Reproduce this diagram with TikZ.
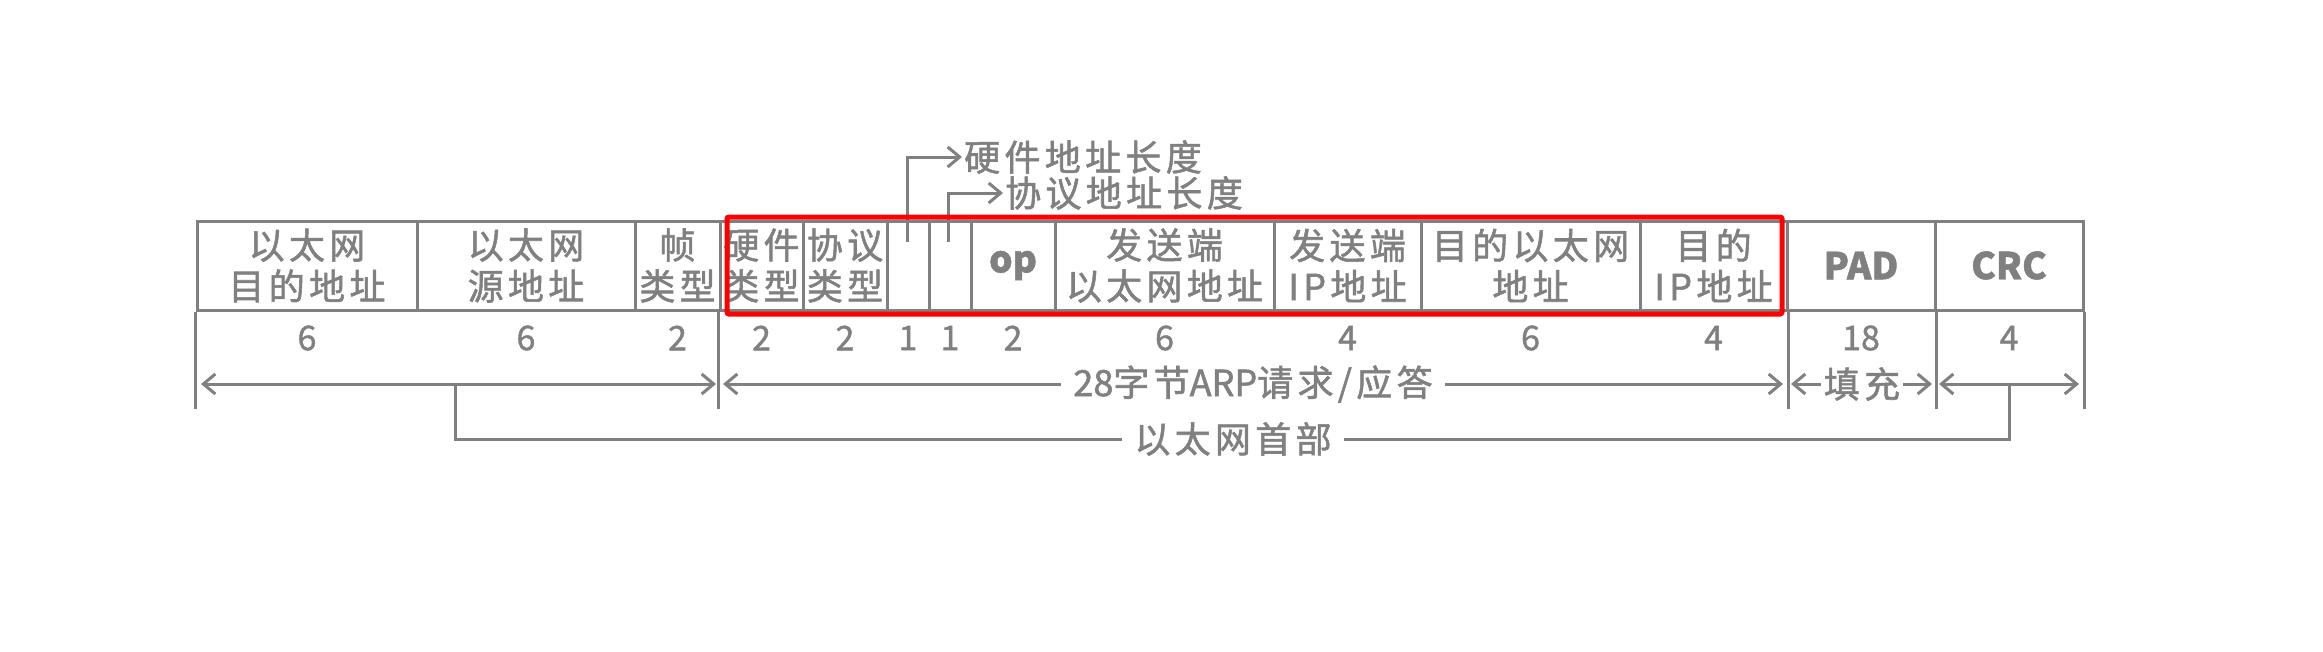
\documentclass[tikz,border=0pt]{standalone}
\usepackage{fontspec}
\usetikzlibrary{arrows.meta}
\setmainfont[FakeBold=1.2]{Noto Sans CJK SC}
\newfontfamily\cjk[LetterSpace=12,FakeBold=1.5]{Noto Sans CJK SC}
\newfontfamily\latf[FakeBold=1.5]{Noto Sans CJK SC}
\definecolor{lg}{RGB}{128,128,128}
\definecolor{rd}{RGB}{255,0,0}
\begin{document}
\begin{tikzpicture}[x=1pt,y=-1pt,
  cell/.style={draw=lg, line width=3pt, minimum height=89pt, inner sep=0pt, text=lg, align=center, font=\cjk\fontsize{36}{41}\selectfont},
  bcell/.style={cell, font=\bfseries\fontsize{37}{41}\selectfont},
  num/.style={text=lg, font=\fontsize{34}{41}\selectfont, inner sep=0pt},
  lbl/.style={text=lg, font=\cjk\fontsize{36}{41}\selectfont, inner sep=2pt},
  ln/.style={draw=lg, line width=3pt},
  arr/.style={ln, -{Straight Barb[length=12pt,width=20pt]}},
  dar/.style={ln, {Straight Barb[length=12pt,width=20pt]}-{Straight Barb[length=12pt,width=20pt]}},
  hl/.style={draw=rd, line width=5pt, rounded corners=2pt, inner sep=0pt}
  ]
\useasboundingbox (0,0) rectangle (2323,651);
% top row cells
\node[cell, minimum width=220pt] (c1) at (307,265.5) {以太网\\目的地址};
\node[cell, minimum width=218pt] (c2) at (526,265.5) {以太网\\源地址};
\node[cell, minimum width=85pt] (c3) at (677.5,265.5) {帧\\类型};
\node[cell, minimum width=83pt] (c4) at (761.5,265.5) {硬件\\类型};
\node[cell, minimum width=84pt] (c5) at (845,265.5) {协议\\类型};
\node[cell, minimum width=42pt] (c6) at (908,265.5) {};
\node[cell, minimum width=42pt] (c7) at (950,265.5) {};
\node[bcell, minimum width=84pt] (c8) at (1013,265.5) {op};
\node[cell, minimum width=219pt] (c9) at (1164.5,265.5) {发送端\\以太网地址};
\node[cell, minimum width=147pt] (c10) at (1347.5,265.5) {发送端\\IP地址};
\node[cell, minimum width=219pt] (c11) at (1530.5,265.5) {目的以太网\\地址};
\node[cell, minimum width=147pt] (c12) at (1713.5,265.5) {目的\\IP地址};
\node[bcell, minimum width=148pt] (c13) at (1861,265.5) {PAD};
\node[bcell, minimum width=148pt] (c14) at (2009,265.5) {CRC};
% downward verticals
\draw[ln] (c1.south west) -- ++(0,97);
\draw[ln] (c4.south west) -- ++(0,97);
\draw[ln] (c12.south east) -- ++(0,97);
\draw[ln] (c13.south east) -- ++(0,97);
\draw[ln] (c14.south east) -- ++(0,97);
% byte counts
\coordinate (yn) at (0,338);
\node[num] (n1) at (c1 |- yn) {6};
\node[num] (n2) at (c2 |- yn) {6};
\node[num] (n3) at (c3 |- yn) {2};
\node[num] (n4) at (c4 |- yn) {2};
\node[num] (n5) at (c5 |- yn) {2};
\node[num] (n6) at (c6 |- yn) {1};
\node[num] (n7) at (c7 |- yn) {1};
\node[num] (n8) at (c8 |- yn) {2};
\node[num] (n9) at (c9 |- yn) {6};
\node[num] (n10) at (c10 |- yn) {4};
\node[num] (n11) at (c11 |- yn) {6};
\node[num] (n12) at (c12 |- yn) {4};
\node[num] (n13) at (c13 |- yn) {18};
\node[num] (n14) at (c14 |- yn) {4};
% length arrows
\coordinate (e1) at (201,384);
\coordinate (e2) at (716,384);
\draw[dar] (e1) -- (e2);
\node[lbl, fill=white, inner xsep=12pt] (arp) at (1253,384) {{\latf 28}字节{\latf ARP}请求/应答};
\coordinate (r1) at (723,384);
\coordinate (r2) at (1783,384);
\draw[arr] (arp.west) -- (r1);
\draw[arr] (arp.east) -- (r2);
\node[lbl, inner xsep=3pt] (pad) at (1862,384) {填充};
\coordinate (q1) at (1791,384);
\coordinate (q2) at (1932,384);
\draw[arr] (pad.west) -- (q1);
\draw[arr] (pad.east) -- (q2);
\coordinate (k1) at (1939,384);
\coordinate (k2) at (2079,384);
\draw[dar] (k1) -- (k2);
% ethernet header bracket
\node[lbl, fill=white, inner xsep=12pt] (eth) at (1233,439) {以太网首部};
\coordinate (b1) at (455,384);
\coordinate (b2) at (455,439);
\coordinate (b3) at (2009,439);
\coordinate (b4) at (2009,384);
\draw[ln] (eth.west) -- (b2) -- (b1);
\draw[ln] (eth.east) -- (b3) -- (b4);
% pointer labels
\node[lbl, anchor=west] (hw) at (962,157) {硬件地址长度};
\node[lbl, anchor=west] (pr) at (1003,193) {协议地址长度};
\coordinate (p1s) at (907,242);
\coordinate (p1c) at (907,157);
\coordinate (p2s) at (948,242);
\coordinate (p2c) at (948,193);
\draw[arr] (p1s) -- (p1c) -- (hw.west);
\draw[arr] (p2s) -- (p2c) -- (pr.west);
% highlight
\node[hl, minimum width=1055pt, minimum height=97pt] (box) at (1254.5,265.5) {};
\end{tikzpicture}
\end{document}
